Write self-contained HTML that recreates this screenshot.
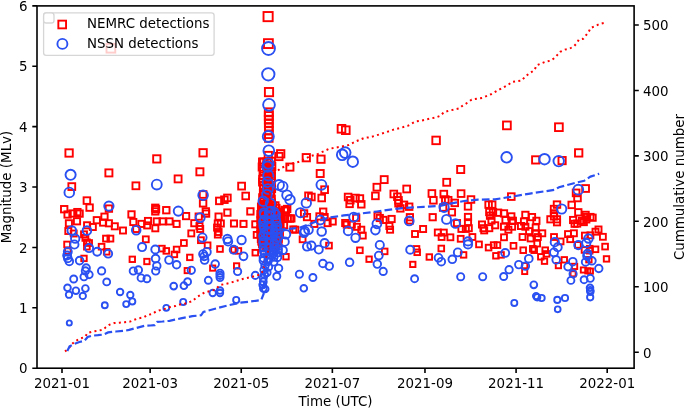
<!DOCTYPE html>
<html><head><meta charset="utf-8"><title>plot</title>
<style>html,body{margin:0;padding:0;background:#fff;overflow:hidden}svg{display:block}</style>
</head><body>
<svg width="685" height="409" viewBox="0 0 685 409" font-family="'DejaVu Sans', 'Liberation Sans', sans-serif" font-size="13.4">
<rect width="685" height="409" fill="#fff"/>
<defs><clipPath id="c"><rect x="37.0" y="5.9" width="597.1" height="362.3"/></clipPath></defs>
<g clip-path="url(#c)" fill="none" stroke-width="1.9">
<g stroke="#ff0000">
<rect x="106.51" y="43.81" width="8.78" height="8.78"/>
<rect x="65.42" y="149.32" width="7.35" height="7.35"/>
<rect x="105.38" y="169.38" width="7.04" height="7.04"/>
<rect x="68.39" y="183.19" width="6.81" height="6.81"/>
<rect x="83.61" y="197.31" width="6.57" height="6.57"/>
<rect x="86.38" y="204.38" width="6.45" height="6.45"/>
<rect x="105.69" y="205.39" width="6.43" height="6.43"/>
<rect x="60.99" y="205.99" width="6.42" height="6.42"/>
<rect x="64.44" y="211.34" width="6.32" height="6.32"/>
<rect x="69.33" y="210.33" width="6.34" height="6.34"/>
<rect x="74.22" y="208.92" width="6.37" height="6.37"/>
<rect x="76.43" y="210.43" width="6.34" height="6.34"/>
<rect x="65.82" y="220.22" width="6.16" height="6.16"/>
<rect x="73.90" y="218.20" width="6.20" height="6.20"/>
<rect x="84.04" y="222.24" width="6.12" height="6.12"/>
<rect x="93.69" y="217.09" width="6.22" height="6.22"/>
<rect x="89.76" y="223.96" width="6.09" height="6.09"/>
<rect x="101.36" y="213.56" width="6.28" height="6.28"/>
<rect x="100.01" y="219.51" width="6.17" height="6.17"/>
<rect x="105.82" y="220.22" width="6.16" height="6.16"/>
<rect x="111.75" y="223.25" width="6.10" height="6.10"/>
<rect x="65.30" y="228.00" width="6.01" height="6.01"/>
<rect x="70.72" y="230.52" width="5.96" height="5.96"/>
<rect x="81.03" y="231.33" width="5.94" height="5.94"/>
<rect x="82.46" y="234.96" width="5.87" height="5.87"/>
<rect x="84.01" y="239.41" width="5.78" height="5.78"/>
<rect x="86.22" y="240.12" width="5.77" height="5.77"/>
<rect x="103.07" y="235.67" width="5.86" height="5.86"/>
<rect x="107.47" y="235.67" width="5.86" height="5.86"/>
<rect x="64.23" y="241.63" width="5.74" height="5.74"/>
<rect x="98.75" y="243.85" width="5.69" height="5.69"/>
<rect x="103.91" y="249.01" width="5.58" height="5.58"/>
<rect x="81.28" y="255.68" width="5.44" height="5.44"/>
<rect x="84.05" y="243.85" width="5.69" height="5.69"/>
<rect x="65.00" y="248.30" width="5.60" height="5.60"/>
<rect x="153.17" y="155.27" width="7.26" height="7.26"/>
<rect x="174.63" y="175.43" width="6.94" height="6.94"/>
<rect x="132.49" y="182.39" width="6.83" height="6.83"/>
<rect x="152.08" y="204.58" width="6.44" height="6.44"/>
<rect x="152.11" y="208.21" width="6.38" height="6.38"/>
<rect x="152.79" y="205.99" width="6.42" height="6.42"/>
<rect x="163.10" y="207.00" width="6.40" height="6.40"/>
<rect x="182.95" y="212.95" width="6.29" height="6.29"/>
<rect x="128.34" y="211.24" width="6.32" height="6.32"/>
<rect x="130.21" y="218.91" width="6.18" height="6.18"/>
<rect x="119.99" y="227.49" width="6.02" height="6.02"/>
<rect x="138.33" y="220.83" width="6.15" height="6.15"/>
<rect x="144.90" y="217.90" width="6.20" height="6.20"/>
<rect x="144.14" y="222.34" width="6.12" height="6.12"/>
<rect x="153.70" y="218.30" width="6.19" height="6.19"/>
<rect x="159.50" y="218.30" width="6.19" height="6.19"/>
<rect x="166.40" y="218.30" width="6.19" height="6.19"/>
<rect x="173.53" y="220.83" width="6.15" height="6.15"/>
<rect x="152.27" y="225.27" width="6.06" height="6.06"/>
<rect x="133.18" y="225.98" width="6.05" height="6.05"/>
<rect x="142.88" y="236.38" width="5.84" height="5.84"/>
<rect x="188.32" y="230.42" width="5.96" height="5.96"/>
<rect x="181.02" y="240.12" width="5.77" height="5.77"/>
<rect x="159.07" y="245.77" width="5.65" height="5.65"/>
<rect x="163.50" y="248.10" width="5.60" height="5.60"/>
<rect x="173.78" y="246.68" width="5.63" height="5.63"/>
<rect x="171.64" y="251.64" width="5.53" height="5.53"/>
<rect x="129.59" y="256.59" width="5.42" height="5.42"/>
<rect x="144.22" y="258.82" width="5.37" height="5.37"/>
<rect x="187.07" y="254.67" width="5.46" height="5.46"/>
<rect x="184.62" y="268.02" width="5.16" height="5.16"/>
<rect x="199.42" y="149.12" width="7.35" height="7.35"/>
<rect x="196.37" y="168.27" width="7.06" height="7.06"/>
<rect x="238.19" y="182.69" width="6.82" height="6.82"/>
<rect x="199.76" y="191.16" width="6.68" height="6.68"/>
<rect x="199.84" y="200.04" width="6.52" height="6.52"/>
<rect x="202.61" y="208.21" width="6.38" height="6.38"/>
<rect x="202.93" y="210.43" width="6.34" height="6.34"/>
<rect x="216.02" y="197.62" width="6.57" height="6.57"/>
<rect x="221.11" y="196.41" width="6.59" height="6.59"/>
<rect x="224.09" y="194.59" width="6.62" height="6.62"/>
<rect x="242.37" y="192.67" width="6.65" height="6.65"/>
<rect x="224.22" y="209.42" width="6.36" height="6.36"/>
<rect x="247.21" y="208.21" width="6.38" height="6.38"/>
<rect x="195.56" y="213.46" width="6.28" height="6.28"/>
<rect x="191.22" y="220.12" width="6.16" height="6.16"/>
<rect x="196.45" y="223.05" width="6.10" height="6.10"/>
<rect x="197.18" y="225.98" width="6.05" height="6.05"/>
<rect x="215.46" y="213.46" width="6.28" height="6.28"/>
<rect x="214.72" y="220.42" width="6.15" height="6.15"/>
<rect x="217.72" y="220.42" width="6.15" height="6.15"/>
<rect x="214.06" y="224.56" width="6.07" height="6.07"/>
<rect x="215.61" y="229.01" width="5.99" height="5.99"/>
<rect x="214.83" y="231.63" width="5.94" height="5.94"/>
<rect x="230.92" y="220.42" width="6.15" height="6.15"/>
<rect x="240.43" y="220.83" width="6.15" height="6.15"/>
<rect x="252.23" y="221.23" width="6.14" height="6.14"/>
<rect x="253.73" y="231.93" width="5.93" height="5.93"/>
<rect x="197.99" y="237.29" width="5.82" height="5.82"/>
<rect x="204.74" y="242.44" width="5.72" height="5.72"/>
<rect x="217.18" y="246.18" width="5.64" height="5.64"/>
<rect x="231.19" y="246.89" width="5.63" height="5.63"/>
<rect x="235.60" y="248.10" width="5.60" height="5.60"/>
<rect x="252.52" y="249.92" width="5.56" height="5.56"/>
<rect x="210.09" y="265.49" width="5.22" height="5.22"/>
<rect x="233.97" y="263.27" width="5.27" height="5.27"/>
<rect x="263.52" y="12.02" width="9.16" height="9.16"/>
<rect x="263.98" y="39.18" width="8.84" height="8.84"/>
<rect x="264.89" y="87.99" width="8.22" height="8.22"/>
<rect x="264.83" y="108.33" width="7.94" height="7.94"/>
<rect x="264.85" y="112.05" width="7.89" height="7.89"/>
<rect x="264.88" y="115.78" width="7.84" height="7.84"/>
<rect x="264.91" y="119.41" width="7.79" height="7.79"/>
<rect x="264.93" y="123.13" width="7.74" height="7.74"/>
<rect x="264.96" y="126.76" width="7.68" height="7.68"/>
<rect x="264.98" y="130.48" width="7.63" height="7.63"/>
<rect x="265.01" y="134.21" width="7.58" height="7.58"/>
<rect x="264.64" y="151.84" width="7.31" height="7.31"/>
<rect x="260.29" y="158.49" width="7.21" height="7.21"/>
<rect x="264.02" y="161.72" width="7.16" height="7.16"/>
<rect x="264.81" y="172.71" width="6.98" height="6.98"/>
<rect x="259.06" y="178.66" width="6.89" height="6.89"/>
<rect x="264.19" y="183.09" width="6.81" height="6.81"/>
<rect x="264.22" y="186.82" width="6.75" height="6.75"/>
<rect x="267.15" y="189.75" width="6.70" height="6.70"/>
<rect x="260.55" y="189.75" width="6.70" height="6.70"/>
<rect x="259.19" y="194.19" width="6.63" height="6.63"/>
<rect x="260.00" y="207.50" width="6.39" height="6.39"/>
<rect x="277.03" y="150.13" width="7.34" height="7.34"/>
<rect x="275.25" y="152.85" width="7.30" height="7.30"/>
<rect x="286.33" y="163.53" width="7.13" height="7.13"/>
<rect x="282.70" y="207.50" width="6.39" height="6.39"/>
<rect x="274.22" y="209.72" width="6.35" height="6.35"/>
<rect x="281.50" y="206.70" width="6.41" height="6.41"/>
<rect x="284.68" y="215.28" width="6.25" height="6.25"/>
<rect x="278.58" y="215.28" width="6.25" height="6.25"/>
<rect x="288.28" y="215.28" width="6.25" height="6.25"/>
<rect x="281.04" y="222.14" width="6.12" height="6.12"/>
<rect x="274.88" y="215.28" width="6.25" height="6.25"/>
<rect x="277.45" y="222.75" width="6.11" height="6.11"/>
<rect x="290.28" y="226.38" width="6.04" height="6.04"/>
<rect x="283.26" y="253.96" width="5.48" height="5.48"/>
<rect x="337.64" y="124.94" width="7.71" height="7.71"/>
<rect x="341.95" y="126.35" width="7.69" height="7.69"/>
<rect x="302.66" y="154.06" width="7.28" height="7.28"/>
<rect x="317.37" y="155.57" width="7.26" height="7.26"/>
<rect x="316.69" y="169.99" width="7.03" height="7.03"/>
<rect x="321.22" y="186.32" width="6.76" height="6.76"/>
<rect x="318.39" y="194.69" width="6.62" height="6.62"/>
<rect x="305.17" y="192.47" width="6.66" height="6.66"/>
<rect x="308.08" y="193.68" width="6.64" height="6.64"/>
<rect x="300.93" y="210.23" width="6.34" height="6.34"/>
<rect x="303.86" y="213.96" width="6.27" height="6.27"/>
<rect x="283.99" y="205.79" width="6.42" height="6.42"/>
<rect x="286.98" y="215.48" width="6.25" height="6.25"/>
<rect x="320.01" y="208.51" width="6.37" height="6.37"/>
<rect x="316.36" y="213.26" width="6.29" height="6.29"/>
<rect x="321.46" y="213.96" width="6.27" height="6.27"/>
<rect x="329.60" y="218.40" width="6.19" height="6.19"/>
<rect x="344.78" y="193.68" width="6.64" height="6.64"/>
<rect x="347.01" y="196.91" width="6.58" height="6.58"/>
<rect x="352.19" y="194.69" width="6.62" height="6.62"/>
<rect x="356.60" y="195.20" width="6.61" height="6.61"/>
<rect x="358.05" y="201.05" width="6.51" height="6.51"/>
<rect x="346.34" y="200.64" width="6.51" height="6.51"/>
<rect x="353.07" y="214.67" width="6.26" height="6.26"/>
<rect x="342.12" y="219.92" width="6.16" height="6.16"/>
<rect x="292.28" y="226.68" width="6.03" height="6.03"/>
<rect x="299.68" y="236.38" width="5.84" height="5.84"/>
<rect x="311.33" y="220.83" width="6.15" height="6.15"/>
<rect x="324.52" y="220.02" width="6.16" height="6.16"/>
<rect x="326.14" y="242.74" width="5.71" height="5.71"/>
<rect x="357.09" y="247.49" width="5.61" height="5.61"/>
<rect x="343.63" y="221.53" width="6.13" height="6.13"/>
<rect x="348.73" y="221.53" width="6.13" height="6.13"/>
<rect x="353.85" y="223.75" width="6.09" height="6.09"/>
<rect x="358.28" y="226.68" width="6.03" height="6.03"/>
<rect x="359.84" y="232.64" width="5.92" height="5.92"/>
<rect x="432.33" y="136.63" width="7.54" height="7.54"/>
<rect x="380.74" y="176.14" width="6.93" height="6.93"/>
<rect x="373.50" y="183.80" width="6.80" height="6.80"/>
<rect x="403.31" y="185.61" width="6.77" height="6.77"/>
<rect x="372.07" y="192.57" width="6.65" height="6.65"/>
<rect x="390.46" y="190.66" width="6.69" height="6.69"/>
<rect x="394.08" y="193.38" width="6.64" height="6.64"/>
<rect x="395.21" y="197.01" width="6.58" height="6.58"/>
<rect x="395.24" y="200.04" width="6.52" height="6.52"/>
<rect x="400.75" y="201.55" width="6.50" height="6.50"/>
<rect x="397.18" y="205.18" width="6.43" height="6.43"/>
<rect x="405.97" y="203.47" width="6.46" height="6.46"/>
<rect x="428.55" y="190.15" width="6.70" height="6.70"/>
<rect x="430.11" y="197.01" width="6.58" height="6.58"/>
<rect x="374.45" y="212.65" width="6.30" height="6.30"/>
<rect x="376.67" y="214.87" width="6.26" height="6.26"/>
<rect x="380.39" y="216.79" width="6.22" height="6.22"/>
<rect x="388.48" y="215.88" width="6.24" height="6.24"/>
<rect x="386.35" y="222.95" width="6.11" height="6.11"/>
<rect x="387.08" y="226.68" width="6.03" height="6.03"/>
<rect x="406.76" y="214.06" width="6.27" height="6.27"/>
<rect x="406.79" y="217.39" width="6.21" height="6.21"/>
<rect x="429.56" y="214.06" width="6.27" height="6.27"/>
<rect x="412.03" y="231.03" width="5.95" height="5.95"/>
<rect x="420.08" y="225.98" width="6.05" height="6.05"/>
<rect x="434.81" y="229.51" width="5.98" height="5.98"/>
<rect x="381.90" y="248.60" width="5.59" height="5.59"/>
<rect x="366.39" y="256.49" width="5.42" height="5.42"/>
<rect x="413.68" y="246.08" width="5.64" height="5.64"/>
<rect x="414.41" y="249.51" width="5.57" height="5.57"/>
<rect x="410.15" y="261.75" width="5.30" height="5.30"/>
<rect x="426.57" y="254.27" width="5.47" height="5.47"/>
<rect x="438.47" y="245.67" width="5.65" height="5.65"/>
<rect x="503.02" y="121.52" width="7.76" height="7.76"/>
<rect x="457.15" y="165.95" width="7.09" height="7.09"/>
<rect x="443.26" y="178.86" width="6.88" height="6.88"/>
<rect x="440.46" y="190.76" width="6.69" height="6.69"/>
<rect x="457.75" y="190.25" width="6.69" height="6.69"/>
<rect x="442.00" y="196.20" width="6.59" height="6.59"/>
<rect x="444.91" y="196.91" width="6.58" height="6.58"/>
<rect x="451.53" y="199.63" width="6.53" height="6.53"/>
<rect x="467.70" y="196.20" width="6.59" height="6.59"/>
<rect x="464.77" y="203.17" width="6.47" height="6.47"/>
<rect x="439.88" y="204.38" width="6.45" height="6.45"/>
<rect x="448.72" y="209.12" width="6.36" height="6.36"/>
<rect x="464.86" y="213.86" width="6.28" height="6.28"/>
<rect x="453.92" y="220.02" width="6.16" height="6.16"/>
<rect x="485.35" y="201.35" width="6.50" height="6.50"/>
<rect x="488.95" y="201.35" width="6.50" height="6.50"/>
<rect x="486.12" y="208.82" width="6.37" height="6.37"/>
<rect x="489.82" y="208.82" width="6.37" height="6.37"/>
<rect x="494.92" y="209.52" width="6.36" height="6.36"/>
<rect x="500.83" y="210.23" width="6.34" height="6.34"/>
<rect x="508.16" y="213.26" width="6.29" height="6.29"/>
<rect x="502.39" y="216.99" width="6.22" height="6.22"/>
<rect x="507.98" y="193.28" width="6.64" height="6.64"/>
<rect x="488.39" y="217.39" width="6.21" height="6.21"/>
<rect x="478.93" y="221.43" width="6.13" height="6.13"/>
<rect x="464.91" y="219.21" width="6.18" height="6.18"/>
<rect x="458.38" y="225.88" width="6.05" height="6.05"/>
<rect x="462.78" y="225.88" width="6.05" height="6.05"/>
<rect x="465.77" y="225.17" width="6.06" height="6.06"/>
<rect x="440.81" y="229.61" width="5.98" height="5.98"/>
<rect x="438.66" y="234.06" width="5.89" height="5.89"/>
<rect x="447.46" y="234.36" width="5.88" height="5.88"/>
<rect x="457.77" y="235.87" width="5.85" height="5.85"/>
<rect x="469.46" y="234.06" width="5.89" height="5.89"/>
<rect x="476.13" y="241.53" width="5.74" height="5.74"/>
<rect x="460.84" y="252.14" width="5.51" height="5.51"/>
<rect x="480.37" y="225.17" width="6.06" height="6.06"/>
<rect x="481.19" y="227.39" width="6.02" height="6.02"/>
<rect x="486.27" y="225.17" width="6.06" height="6.06"/>
<rect x="492.14" y="222.24" width="6.12" height="6.12"/>
<rect x="486.85" y="212.55" width="6.30" height="6.30"/>
<rect x="500.95" y="223.65" width="6.09" height="6.09"/>
<rect x="505.38" y="226.68" width="6.03" height="6.03"/>
<rect x="509.00" y="217.80" width="6.20" height="6.20"/>
<rect x="509.05" y="223.65" width="6.09" height="6.09"/>
<rect x="501.06" y="234.36" width="5.88" height="5.88"/>
<rect x="485.76" y="244.76" width="5.67" height="5.67"/>
<rect x="490.84" y="242.24" width="5.72" height="5.72"/>
<rect x="494.54" y="242.24" width="5.72" height="5.72"/>
<rect x="493.15" y="253.05" width="5.50" height="5.50"/>
<rect x="498.34" y="252.14" width="5.51" height="5.51"/>
<rect x="510.65" y="242.95" width="5.71" height="5.71"/>
<rect x="555.03" y="123.33" width="7.73" height="7.73"/>
<rect x="575.02" y="149.22" width="7.35" height="7.35"/>
<rect x="532.08" y="156.28" width="7.24" height="7.24"/>
<rect x="558.48" y="156.98" width="7.23" height="7.23"/>
<rect x="582.21" y="185.11" width="6.78" height="6.78"/>
<rect x="572.75" y="189.55" width="6.71" height="6.71"/>
<rect x="574.19" y="194.69" width="6.62" height="6.62"/>
<rect x="568.45" y="201.65" width="6.50" height="6.50"/>
<rect x="575.12" y="209.12" width="6.36" height="6.36"/>
<rect x="569.99" y="216.89" width="6.22" height="6.22"/>
<rect x="582.44" y="211.74" width="6.31" height="6.31"/>
<rect x="583.96" y="213.96" width="6.27" height="6.27"/>
<rect x="578.80" y="217.70" width="6.20" height="6.20"/>
<rect x="553.75" y="201.35" width="6.50" height="6.50"/>
<rect x="550.79" y="205.79" width="6.42" height="6.42"/>
<rect x="550.83" y="210.23" width="6.34" height="6.34"/>
<rect x="550.86" y="213.26" width="6.29" height="6.29"/>
<rect x="547.28" y="216.18" width="6.23" height="6.23"/>
<rect x="553.88" y="216.18" width="6.23" height="6.23"/>
<rect x="522.24" y="211.74" width="6.31" height="6.31"/>
<rect x="528.86" y="213.96" width="6.27" height="6.27"/>
<rect x="533.30" y="217.70" width="6.20" height="6.20"/>
<rect x="520.90" y="218.40" width="6.19" height="6.19"/>
<rect x="509.80" y="217.70" width="6.20" height="6.20"/>
<rect x="517.95" y="222.95" width="6.11" height="6.11"/>
<rect x="522.35" y="223.65" width="6.09" height="6.09"/>
<rect x="526.10" y="228.10" width="6.01" height="6.01"/>
<rect x="532.66" y="224.46" width="6.08" height="6.08"/>
<rect x="532.72" y="230.32" width="5.96" height="5.96"/>
<rect x="539.32" y="230.32" width="5.96" height="5.96"/>
<rect x="519.56" y="234.06" width="5.89" height="5.89"/>
<rect x="527.67" y="235.57" width="5.86" height="5.86"/>
<rect x="534.96" y="234.06" width="5.89" height="5.89"/>
<rect x="534.32" y="240.72" width="5.75" height="5.75"/>
<rect x="529.98" y="245.98" width="5.65" height="5.65"/>
<rect x="531.39" y="247.39" width="5.62" height="5.62"/>
<rect x="520.39" y="247.39" width="5.62" height="5.62"/>
<rect x="542.39" y="247.39" width="5.62" height="5.62"/>
<rect x="543.93" y="251.13" width="5.54" height="5.54"/>
<rect x="538.06" y="254.06" width="5.47" height="5.47"/>
<rect x="541.81" y="258.51" width="5.38" height="5.38"/>
<rect x="553.91" y="219.21" width="6.18" height="6.18"/>
<rect x="551.06" y="234.06" width="5.89" height="5.89"/>
<rect x="557.70" y="238.50" width="5.80" height="5.80"/>
<rect x="565.03" y="231.13" width="5.95" height="5.95"/>
<rect x="567.28" y="236.28" width="5.85" height="5.85"/>
<rect x="570.92" y="230.32" width="5.96" height="5.96"/>
<rect x="571.53" y="220.73" width="6.15" height="6.15"/>
<rect x="583.18" y="216.28" width="6.23" height="6.23"/>
<rect x="581.94" y="232.64" width="5.92" height="5.92"/>
<rect x="561.60" y="257.10" width="5.41" height="5.41"/>
<rect x="555.76" y="262.96" width="5.28" height="5.28"/>
<rect x="571.97" y="263.77" width="5.26" height="5.26"/>
<rect x="580.81" y="267.41" width="5.17" height="5.17"/>
<rect x="522.06" y="262.96" width="5.28" height="5.28"/>
<rect x="522.13" y="268.93" width="5.14" height="5.14"/>
<rect x="585.22" y="268.32" width="5.15" height="5.15"/>
<rect x="570.56" y="271.26" width="5.08" height="5.08"/>
<rect x="587.26" y="213.86" width="6.28" height="6.28"/>
<rect x="589.47" y="214.57" width="6.26" height="6.26"/>
<rect x="580.71" y="219.01" width="6.18" height="6.18"/>
<rect x="574.12" y="220.52" width="6.15" height="6.15"/>
<rect x="595.48" y="226.48" width="6.04" height="6.04"/>
<rect x="592.50" y="228.70" width="5.99" height="5.99"/>
<rect x="587.44" y="232.34" width="5.92" height="5.92"/>
<rect x="599.95" y="233.85" width="5.89" height="5.89"/>
<rect x="575.04" y="242.04" width="5.73" height="5.73"/>
<rect x="602.25" y="243.75" width="5.69" height="5.69"/>
<rect x="592.68" y="246.48" width="5.64" height="5.64"/>
<rect x="581.69" y="247.19" width="5.62" height="5.62"/>
<rect x="586.90" y="247.90" width="5.61" height="5.61"/>
<rect x="586.88" y="245.88" width="5.65" height="5.65"/>
<rect x="603.79" y="256.19" width="5.43" height="5.43"/>
<rect x="586.20" y="257.00" width="5.41" height="5.41"/>
<rect x="587.83" y="268.53" width="5.15" height="5.15"/>
<rect x="258.98" y="158.47" width="7.21" height="7.21"/>
<rect x="263.19" y="158.56" width="7.21" height="7.21"/>
<rect x="267.59" y="157.69" width="7.22" height="7.22"/>
<rect x="258.65" y="163.47" width="7.13" height="7.13"/>
<rect x="263.04" y="162.50" width="7.15" height="7.15"/>
<rect x="268.22" y="162.88" width="7.14" height="7.14"/>
<rect x="260.00" y="167.43" width="7.07" height="7.07"/>
<rect x="263.68" y="166.90" width="7.08" height="7.08"/>
<rect x="267.69" y="168.06" width="7.06" height="7.06"/>
<rect x="259.54" y="172.39" width="6.99" height="6.99"/>
<rect x="263.77" y="171.30" width="7.01" height="7.01"/>
<rect x="267.92" y="172.15" width="6.99" height="6.99"/>
<rect x="259.21" y="175.78" width="6.93" height="6.93"/>
<rect x="264.12" y="176.49" width="6.92" height="6.92"/>
<rect x="267.89" y="177.15" width="6.91" height="6.91"/>
<rect x="259.92" y="181.76" width="6.84" height="6.84"/>
<rect x="263.41" y="181.56" width="6.84" height="6.84"/>
<rect x="267.49" y="181.78" width="6.84" height="6.84"/>
<rect x="260.21" y="184.96" width="6.78" height="6.78"/>
<rect x="263.03" y="185.16" width="6.78" height="6.78"/>
<rect x="268.36" y="185.51" width="6.77" height="6.77"/>
<rect x="259.85" y="189.83" width="6.70" height="6.70"/>
<rect x="263.66" y="189.97" width="6.70" height="6.70"/>
<rect x="267.41" y="190.29" width="6.69" height="6.69"/>
<rect x="259.83" y="195.34" width="6.61" height="6.61"/>
<rect x="263.99" y="195.38" width="6.61" height="6.61"/>
<rect x="268.27" y="195.48" width="6.60" height="6.60"/>
<rect x="260.00" y="198.69" width="6.55" height="6.55"/>
<rect x="264.31" y="199.98" width="6.53" height="6.53"/>
<rect x="268.38" y="199.34" width="6.54" height="6.54"/>
<rect x="259.09" y="201.29" width="6.50" height="6.50"/>
<rect x="262.78" y="201.87" width="6.49" height="6.49"/>
<rect x="265.40" y="201.05" width="6.51" height="6.51"/>
<rect x="269.83" y="202.54" width="6.48" height="6.48"/>
<rect x="272.10" y="202.24" width="6.49" height="6.49"/>
<rect x="258.63" y="204.52" width="6.45" height="6.45"/>
<rect x="261.96" y="205.52" width="6.43" height="6.43"/>
<rect x="266.37" y="204.35" width="6.45" height="6.45"/>
<rect x="269.46" y="204.35" width="6.45" height="6.45"/>
<rect x="273.13" y="204.81" width="6.44" height="6.44"/>
<rect x="259.43" y="209.19" width="6.36" height="6.36"/>
<rect x="262.33" y="209.22" width="6.36" height="6.36"/>
<rect x="265.50" y="207.73" width="6.39" height="6.39"/>
<rect x="269.47" y="207.66" width="6.39" height="6.39"/>
<rect x="272.33" y="208.26" width="6.38" height="6.38"/>
<rect x="259.01" y="211.19" width="6.33" height="6.33"/>
<rect x="261.62" y="212.34" width="6.30" height="6.30"/>
<rect x="265.55" y="212.48" width="6.30" height="6.30"/>
<rect x="269.98" y="211.55" width="6.32" height="6.32"/>
<rect x="272.78" y="211.77" width="6.31" height="6.31"/>
<rect x="259.10" y="215.23" width="6.25" height="6.25"/>
<rect x="262.47" y="215.27" width="6.25" height="6.25"/>
<rect x="266.58" y="215.08" width="6.25" height="6.25"/>
<rect x="269.27" y="215.43" width="6.25" height="6.25"/>
<rect x="272.45" y="214.75" width="6.26" height="6.26"/>
<rect x="259.67" y="218.44" width="6.19" height="6.19"/>
<rect x="262.47" y="217.62" width="6.21" height="6.21"/>
<rect x="265.77" y="218.53" width="6.19" height="6.19"/>
<rect x="268.64" y="218.59" width="6.19" height="6.19"/>
<rect x="273.11" y="217.69" width="6.20" height="6.20"/>
<rect x="259.14" y="221.68" width="6.13" height="6.13"/>
<rect x="262.72" y="221.50" width="6.13" height="6.13"/>
<rect x="266.27" y="222.12" width="6.12" height="6.12"/>
<rect x="268.66" y="221.03" width="6.14" height="6.14"/>
<rect x="273.22" y="222.48" width="6.11" height="6.11"/>
<rect x="258.57" y="225.00" width="6.07" height="6.07"/>
<rect x="262.61" y="224.78" width="6.07" height="6.07"/>
<rect x="265.75" y="224.76" width="6.07" height="6.07"/>
<rect x="269.26" y="225.22" width="6.06" height="6.06"/>
<rect x="272.65" y="224.87" width="6.07" height="6.07"/>
<rect x="259.43" y="227.64" width="6.02" height="6.02"/>
<rect x="262.61" y="228.78" width="5.99" height="5.99"/>
<rect x="265.69" y="227.95" width="6.01" height="6.01"/>
<rect x="269.98" y="227.98" width="6.01" height="6.01"/>
<rect x="272.50" y="228.29" width="6.00" height="6.00"/>
<rect x="259.34" y="231.09" width="5.95" height="5.95"/>
<rect x="262.24" y="231.46" width="5.94" height="5.94"/>
<rect x="266.56" y="231.63" width="5.94" height="5.94"/>
<rect x="270.10" y="231.20" width="5.95" height="5.95"/>
<rect x="272.77" y="231.98" width="5.93" height="5.93"/>
<rect x="259.68" y="234.99" width="5.87" height="5.87"/>
<rect x="262.12" y="234.45" width="5.88" height="5.88"/>
<rect x="266.11" y="234.57" width="5.88" height="5.88"/>
<rect x="270.06" y="235.61" width="5.86" height="5.86"/>
<rect x="272.56" y="234.71" width="5.88" height="5.88"/>
<rect x="259.59" y="238.63" width="5.80" height="5.80"/>
<rect x="263.09" y="238.15" width="5.81" height="5.81"/>
<rect x="265.50" y="238.06" width="5.81" height="5.81"/>
<rect x="270.07" y="238.03" width="5.81" height="5.81"/>
<rect x="272.85" y="238.26" width="5.80" height="5.80"/>
<rect x="259.00" y="241.59" width="5.74" height="5.74"/>
<rect x="263.30" y="241.18" width="5.75" height="5.75"/>
<rect x="265.35" y="242.45" width="5.72" height="5.72"/>
<rect x="270.25" y="242.52" width="5.72" height="5.72"/>
<rect x="273.04" y="242.46" width="5.72" height="5.72"/>
<rect x="259.85" y="244.62" width="5.67" height="5.67"/>
<rect x="263.07" y="245.61" width="5.65" height="5.65"/>
<rect x="266.43" y="245.10" width="5.66" height="5.66"/>
<rect x="269.33" y="244.81" width="5.67" height="5.67"/>
<rect x="272.72" y="244.37" width="5.68" height="5.68"/>
<rect x="257.91" y="203.43" width="6.46" height="6.46"/>
<rect x="260.26" y="203.04" width="6.47" height="6.47"/>
<rect x="258.44" y="206.61" width="6.41" height="6.41"/>
<rect x="260.48" y="206.93" width="6.40" height="6.40"/>
<rect x="258.46" y="208.94" width="6.37" height="6.37"/>
<rect x="259.04" y="209.21" width="6.36" height="6.36"/>
<rect x="257.31" y="211.02" width="6.33" height="6.33"/>
<rect x="260.10" y="211.38" width="6.32" height="6.32"/>
<rect x="257.73" y="214.57" width="6.26" height="6.26"/>
<rect x="260.04" y="213.61" width="6.28" height="6.28"/>
<rect x="257.49" y="216.97" width="6.22" height="6.22"/>
<rect x="259.85" y="216.84" width="6.22" height="6.22"/>
<rect x="257.67" y="218.42" width="6.19" height="6.19"/>
<rect x="259.97" y="219.42" width="6.17" height="6.17"/>
<rect x="257.41" y="221.90" width="6.13" height="6.13"/>
<rect x="260.61" y="221.93" width="6.13" height="6.13"/>
<rect x="258.47" y="223.16" width="6.10" height="6.10"/>
<rect x="260.17" y="224.54" width="6.08" height="6.08"/>
<rect x="257.26" y="226.11" width="6.05" height="6.05"/>
<rect x="259.61" y="226.53" width="6.04" height="6.04"/>
<rect x="257.88" y="228.96" width="5.99" height="5.99"/>
<rect x="260.44" y="228.20" width="6.00" height="6.00"/>
<rect x="257.31" y="230.93" width="5.95" height="5.95"/>
<rect x="259.42" y="230.83" width="5.95" height="5.95"/>
<rect x="258.82" y="234.63" width="5.88" height="5.88"/>
<rect x="259.39" y="234.06" width="5.89" height="5.89"/>
<rect x="257.78" y="236.28" width="5.84" height="5.84"/>
<rect x="259.84" y="236.82" width="5.83" height="5.83"/>
<rect x="258.24" y="238.88" width="5.79" height="5.79"/>
<rect x="259.61" y="238.83" width="5.79" height="5.79"/>
<rect x="273.71" y="208.91" width="6.37" height="6.37"/>
<rect x="276.66" y="208.62" width="6.37" height="6.37"/>
<rect x="273.66" y="210.82" width="6.33" height="6.33"/>
<rect x="276.14" y="211.51" width="6.32" height="6.32"/>
<rect x="274.81" y="213.67" width="6.28" height="6.28"/>
<rect x="276.85" y="214.06" width="6.27" height="6.27"/>
<rect x="274.27" y="216.18" width="6.23" height="6.23"/>
<rect x="276.38" y="216.71" width="6.22" height="6.22"/>
<rect x="274.28" y="219.22" width="6.18" height="6.18"/>
<rect x="276.34" y="218.50" width="6.19" height="6.19"/>
<rect x="274.49" y="221.75" width="6.13" height="6.13"/>
<rect x="275.75" y="221.31" width="6.14" height="6.14"/>
<rect x="274.34" y="224.57" width="6.07" height="6.07"/>
<rect x="277.15" y="223.75" width="6.09" height="6.09"/>
<rect x="275.12" y="226.95" width="6.03" height="6.03"/>
<rect x="276.10" y="226.42" width="6.04" height="6.04"/>
<rect x="273.91" y="229.51" width="5.98" height="5.98"/>
<rect x="276.77" y="229.63" width="5.98" height="5.98"/>
<rect x="275.00" y="231.80" width="5.93" height="5.93"/>
<rect x="276.91" y="231.63" width="5.94" height="5.94"/>
<rect x="273.92" y="234.20" width="5.89" height="5.89"/>
<rect x="275.76" y="233.48" width="5.90" height="5.90"/>
<rect x="275.01" y="235.84" width="5.85" height="5.85"/>
<rect x="275.92" y="235.93" width="5.85" height="5.85"/>
<rect x="275.21" y="238.59" width="5.80" height="5.80"/>
<rect x="275.85" y="239.66" width="5.78" height="5.78"/>
</g>
<g stroke="#2a50f2">
<circle cx="70.60" cy="174.80" r="5.08"/>
<circle cx="69.30" cy="192.50" r="4.85"/>
<circle cx="108.90" cy="206.10" r="4.67"/>
<circle cx="71.80" cy="230.50" r="4.32"/>
<circle cx="86.90" cy="230.60" r="4.32"/>
<circle cx="75.20" cy="238.70" r="4.20"/>
<circle cx="74.40" cy="244.50" r="4.11"/>
<circle cx="89.10" cy="248.10" r="4.05"/>
<circle cx="97.20" cy="251.80" r="3.99"/>
<circle cx="108.20" cy="253.70" r="3.96"/>
<circle cx="67.80" cy="251.80" r="3.99"/>
<circle cx="67.10" cy="255.50" r="3.93"/>
<circle cx="67.80" cy="258.40" r="3.88"/>
<circle cx="69.30" cy="261.40" r="3.83"/>
<circle cx="79.60" cy="260.60" r="3.84"/>
<circle cx="86.20" cy="268.00" r="3.71"/>
<circle cx="85.40" cy="270.90" r="3.66"/>
<circle cx="89.10" cy="274.60" r="3.60"/>
<circle cx="84.00" cy="276.80" r="3.56"/>
<circle cx="101.60" cy="270.90" r="3.66"/>
<circle cx="73.70" cy="279.00" r="3.51"/>
<circle cx="106.70" cy="281.90" r="3.46"/>
<circle cx="67.50" cy="287.80" r="3.35"/>
<circle cx="75.90" cy="290.70" r="3.29"/>
<circle cx="85.40" cy="288.50" r="3.33"/>
<circle cx="69.00" cy="294.70" r="3.21"/>
<circle cx="82.80" cy="295.90" r="3.18"/>
<circle cx="104.80" cy="305.20" r="2.98"/>
<circle cx="69.30" cy="322.90" r="2.55"/>
<circle cx="156.80" cy="184.60" r="4.95"/>
<circle cx="178.30" cy="211.10" r="4.60"/>
<circle cx="136.20" cy="230.20" r="4.32"/>
<circle cx="142.10" cy="247.10" r="4.06"/>
<circle cx="155.30" cy="249.50" r="4.03"/>
<circle cx="155.60" cy="258.60" r="3.88"/>
<circle cx="169.00" cy="260.00" r="3.85"/>
<circle cx="176.60" cy="264.70" r="3.77"/>
<circle cx="156.80" cy="265.90" r="3.75"/>
<circle cx="155.70" cy="271.00" r="3.66"/>
<circle cx="191.30" cy="270.30" r="3.67"/>
<circle cx="133.30" cy="271.00" r="3.66"/>
<circle cx="138.40" cy="270.00" r="3.68"/>
<circle cx="141.10" cy="277.90" r="3.54"/>
<circle cx="146.90" cy="278.80" r="3.52"/>
<circle cx="173.70" cy="286.10" r="3.38"/>
<circle cx="183.90" cy="285.70" r="3.39"/>
<circle cx="187.60" cy="281.70" r="3.46"/>
<circle cx="120.10" cy="292.00" r="3.26"/>
<circle cx="130.30" cy="295.00" r="3.20"/>
<circle cx="132.30" cy="301.40" r="3.06"/>
<circle cx="126.20" cy="304.10" r="3.00"/>
<circle cx="166.30" cy="307.80" r="2.92"/>
<circle cx="183.20" cy="301.90" r="3.05"/>
<circle cx="203.10" cy="195.30" r="4.81"/>
<circle cx="200.20" cy="217.60" r="4.51"/>
<circle cx="202.40" cy="237.60" r="4.21"/>
<circle cx="227.40" cy="239.00" r="4.19"/>
<circle cx="228.10" cy="241.50" r="4.15"/>
<circle cx="241.60" cy="240.00" r="4.18"/>
<circle cx="233.70" cy="249.70" r="4.02"/>
<circle cx="243.50" cy="256.30" r="3.91"/>
<circle cx="203.10" cy="254.10" r="3.95"/>
<circle cx="206.80" cy="251.90" r="3.99"/>
<circle cx="204.60" cy="260.00" r="3.85"/>
<circle cx="204.30" cy="256.30" r="3.91"/>
<circle cx="215.20" cy="264.10" r="3.78"/>
<circle cx="237.60" cy="271.50" r="3.65"/>
<circle cx="220.00" cy="273.20" r="3.62"/>
<circle cx="220.00" cy="275.40" r="3.58"/>
<circle cx="220.00" cy="277.60" r="3.54"/>
<circle cx="208.30" cy="280.30" r="3.49"/>
<circle cx="255.30" cy="275.40" r="3.58"/>
<circle cx="212.70" cy="293.00" r="3.24"/>
<circle cx="220.00" cy="290.60" r="3.29"/>
<circle cx="220.00" cy="293.00" r="3.24"/>
<circle cx="236.20" cy="300.00" r="3.09"/>
<circle cx="268.50" cy="48.50" r="6.44"/>
<circle cx="268.30" cy="74.30" r="6.19"/>
<circle cx="269.00" cy="104.80" r="5.88"/>
<circle cx="268.30" cy="136.50" r="5.53"/>
<circle cx="268.80" cy="150.70" r="5.37"/>
<circle cx="268.30" cy="163.60" r="5.21"/>
<circle cx="267.60" cy="166.70" r="5.18"/>
<circle cx="268.30" cy="175.50" r="5.07"/>
<circle cx="267.60" cy="182.10" r="4.98"/>
<circle cx="279.00" cy="185.00" r="4.95"/>
<circle cx="282.60" cy="186.60" r="4.93"/>
<circle cx="287.00" cy="195.20" r="4.81"/>
<circle cx="290.00" cy="199.80" r="4.75"/>
<circle cx="263.20" cy="201.20" r="4.73"/>
<circle cx="270.50" cy="203.40" r="4.70"/>
<circle cx="270.50" cy="211.40" r="4.59"/>
<circle cx="286.00" cy="234.30" r="4.26"/>
<circle cx="284.70" cy="241.70" r="4.15"/>
<circle cx="282.90" cy="250.20" r="4.01"/>
<circle cx="278.00" cy="249.00" r="4.03"/>
<circle cx="278.00" cy="252.40" r="3.98"/>
<circle cx="277.40" cy="257.30" r="3.90"/>
<circle cx="278.60" cy="268.30" r="3.71"/>
<circle cx="276.80" cy="276.30" r="3.56"/>
<circle cx="263.30" cy="278.10" r="3.53"/>
<circle cx="263.30" cy="281.80" r="3.46"/>
<circle cx="262.70" cy="284.80" r="3.40"/>
<circle cx="263.30" cy="288.50" r="3.33"/>
<circle cx="265.20" cy="289.10" r="3.32"/>
<circle cx="342.20" cy="154.80" r="5.32"/>
<circle cx="345.20" cy="152.60" r="5.34"/>
<circle cx="352.80" cy="161.70" r="5.24"/>
<circle cx="321.40" cy="184.80" r="4.95"/>
<circle cx="306.30" cy="202.90" r="4.71"/>
<circle cx="300.40" cy="212.70" r="4.58"/>
<circle cx="320.20" cy="220.00" r="4.47"/>
<circle cx="353.70" cy="217.10" r="4.51"/>
<circle cx="304.80" cy="231.20" r="4.31"/>
<circle cx="308.50" cy="229.70" r="4.33"/>
<circle cx="304.10" cy="232.70" r="4.29"/>
<circle cx="321.70" cy="231.50" r="4.30"/>
<circle cx="307.00" cy="246.60" r="4.07"/>
<circle cx="311.40" cy="245.60" r="4.09"/>
<circle cx="318.80" cy="249.60" r="4.02"/>
<circle cx="324.60" cy="243.20" r="4.13"/>
<circle cx="322.90" cy="263.50" r="3.79"/>
<circle cx="329.30" cy="266.10" r="3.75"/>
<circle cx="349.60" cy="262.30" r="3.81"/>
<circle cx="299.40" cy="274.20" r="3.60"/>
<circle cx="312.90" cy="277.50" r="3.54"/>
<circle cx="303.80" cy="288.30" r="3.34"/>
<circle cx="348.10" cy="230.90" r="4.31"/>
<circle cx="355.50" cy="237.80" r="4.21"/>
<circle cx="409.20" cy="220.90" r="4.46"/>
<circle cx="376.90" cy="223.80" r="4.42"/>
<circle cx="375.40" cy="230.10" r="4.33"/>
<circle cx="379.80" cy="245.00" r="4.10"/>
<circle cx="378.80" cy="255.60" r="3.93"/>
<circle cx="377.30" cy="264.10" r="3.78"/>
<circle cx="383.20" cy="271.40" r="3.65"/>
<circle cx="410.20" cy="249.70" r="4.02"/>
<circle cx="414.60" cy="278.70" r="3.52"/>
<circle cx="438.50" cy="257.80" r="3.89"/>
<circle cx="441.30" cy="261.70" r="3.82"/>
<circle cx="506.60" cy="157.30" r="5.29"/>
<circle cx="444.10" cy="207.30" r="4.65"/>
<circle cx="446.50" cy="219.40" r="4.48"/>
<circle cx="455.50" cy="223.50" r="4.42"/>
<circle cx="468.00" cy="241.40" r="4.15"/>
<circle cx="468.00" cy="244.40" r="4.11"/>
<circle cx="457.80" cy="252.40" r="3.98"/>
<circle cx="452.30" cy="259.30" r="3.86"/>
<circle cx="505.20" cy="252.90" r="3.97"/>
<circle cx="509.10" cy="269.70" r="3.68"/>
<circle cx="460.70" cy="276.70" r="3.56"/>
<circle cx="482.70" cy="276.70" r="3.56"/>
<circle cx="503.70" cy="276.50" r="3.56"/>
<circle cx="514.30" cy="302.90" r="3.03"/>
<circle cx="544.50" cy="159.20" r="5.27"/>
<circle cx="558.70" cy="161.10" r="5.24"/>
<circle cx="578.30" cy="189.70" r="4.89"/>
<circle cx="561.70" cy="209.00" r="4.63"/>
<circle cx="554.80" cy="242.20" r="4.14"/>
<circle cx="557.70" cy="247.30" r="4.06"/>
<circle cx="554.00" cy="252.40" r="3.98"/>
<circle cx="556.20" cy="259.80" r="3.86"/>
<circle cx="578.30" cy="245.10" r="4.10"/>
<circle cx="586.30" cy="242.90" r="4.13"/>
<circle cx="588.50" cy="238.50" r="4.20"/>
<circle cx="587.10" cy="256.10" r="3.92"/>
<circle cx="585.60" cy="262.00" r="3.82"/>
<circle cx="528.80" cy="258.70" r="3.87"/>
<circle cx="518.80" cy="264.60" r="3.77"/>
<circle cx="525.40" cy="266.10" r="3.75"/>
<circle cx="572.80" cy="261.70" r="3.82"/>
<circle cx="568.00" cy="266.70" r="3.74"/>
<circle cx="573.10" cy="273.90" r="3.61"/>
<circle cx="570.90" cy="280.40" r="3.49"/>
<circle cx="584.10" cy="279.70" r="3.50"/>
<circle cx="590.30" cy="278.30" r="3.53"/>
<circle cx="590.00" cy="287.80" r="3.35"/>
<circle cx="590.20" cy="290.20" r="3.30"/>
<circle cx="590.20" cy="297.30" r="3.15"/>
<circle cx="533.80" cy="284.80" r="3.40"/>
<circle cx="536.10" cy="296.10" r="3.18"/>
<circle cx="537.20" cy="297.30" r="3.15"/>
<circle cx="541.60" cy="298.00" r="3.14"/>
<circle cx="557.30" cy="299.90" r="3.10"/>
<circle cx="565.00" cy="298.00" r="3.14"/>
<circle cx="557.70" cy="309.30" r="2.89"/>
<circle cx="587.50" cy="253.70" r="3.96"/>
<circle cx="591.90" cy="260.80" r="3.84"/>
<circle cx="598.80" cy="268.50" r="3.71"/>
<circle cx="590.40" cy="291.70" r="3.27"/>
<circle cx="268.00" cy="189.00" r="4.90"/>
<circle cx="267.00" cy="194.50" r="4.82"/>
<circle cx="265.00" cy="265.50" r="3.76"/>
<circle cx="268.50" cy="267.00" r="3.73"/>
<circle cx="264.00" cy="270.00" r="3.68"/>
<circle cx="267.00" cy="272.50" r="3.63"/>
<circle cx="264.50" cy="274.50" r="3.60"/>
<circle cx="264.24" cy="212.69" r="4.58"/>
<circle cx="269.35" cy="212.67" r="4.58"/>
<circle cx="273.90" cy="212.16" r="4.58"/>
<circle cx="264.60" cy="214.57" r="4.55"/>
<circle cx="270.03" cy="215.52" r="4.54"/>
<circle cx="275.43" cy="214.71" r="4.55"/>
<circle cx="264.50" cy="219.87" r="4.47"/>
<circle cx="268.87" cy="218.65" r="4.49"/>
<circle cx="275.63" cy="219.66" r="4.48"/>
<circle cx="263.48" cy="221.86" r="4.45"/>
<circle cx="269.25" cy="222.73" r="4.43"/>
<circle cx="276.01" cy="222.29" r="4.44"/>
<circle cx="263.73" cy="225.79" r="4.39"/>
<circle cx="267.70" cy="225.84" r="4.39"/>
<circle cx="271.17" cy="226.00" r="4.39"/>
<circle cx="276.95" cy="225.83" r="4.39"/>
<circle cx="264.49" cy="228.82" r="4.34"/>
<circle cx="268.55" cy="230.01" r="4.33"/>
<circle cx="272.68" cy="229.53" r="4.33"/>
<circle cx="276.47" cy="229.79" r="4.33"/>
<circle cx="264.79" cy="232.30" r="4.29"/>
<circle cx="267.53" cy="233.50" r="4.27"/>
<circle cx="273.50" cy="233.03" r="4.28"/>
<circle cx="276.89" cy="233.44" r="4.28"/>
<circle cx="263.37" cy="236.03" r="4.24"/>
<circle cx="267.90" cy="236.67" r="4.23"/>
<circle cx="272.63" cy="235.96" r="4.24"/>
<circle cx="277.88" cy="237.41" r="4.22"/>
<circle cx="263.59" cy="240.41" r="4.17"/>
<circle cx="269.58" cy="240.71" r="4.16"/>
<circle cx="275.67" cy="239.53" r="4.18"/>
<circle cx="263.44" cy="242.55" r="4.14"/>
<circle cx="269.46" cy="243.27" r="4.12"/>
<circle cx="274.34" cy="243.22" r="4.13"/>
<circle cx="263.64" cy="247.55" r="4.06"/>
<circle cx="268.54" cy="247.98" r="4.05"/>
<circle cx="274.46" cy="247.20" r="4.06"/>
<circle cx="263.94" cy="251.17" r="4.00"/>
<circle cx="269.64" cy="250.61" r="4.01"/>
<circle cx="273.96" cy="250.94" r="4.00"/>
<circle cx="264.71" cy="253.80" r="3.96"/>
<circle cx="269.22" cy="254.92" r="3.94"/>
<circle cx="273.43" cy="253.46" r="3.96"/>
<circle cx="263.47" cy="257.94" r="3.89"/>
<circle cx="268.85" cy="258.42" r="3.88"/>
<circle cx="273.71" cy="256.98" r="3.90"/>
<circle cx="263.38" cy="260.52" r="3.84"/>
<circle cx="267.87" cy="261.41" r="3.83"/>
<circle cx="273.72" cy="261.80" r="3.82"/>
</g>
</g>
<g clip-path="url(#c)" fill="none" stroke-width="2.0">
<polyline points="65.00,351.40 68.70,348.60 71.50,344.50 75.50,341.00 79.80,338.60 84.90,337.00 87.70,332.90 92.80,331.50 97.90,330.80 103.00,329.60 105.80,327.30 109.50,324.70 114.20,323.10 119.40,322.70 124.90,322.20 130.00,321.60 133.50,320.10 138.40,318.30 143.70,317.40 147.40,315.00 152.50,313.90 156.00,311.40 160.30,310.10 165.60,308.60 170.40,307.00 175.20,306.10 180.00,304.40 185.30,303.50 192.30,301.10 196.90,297.10 205.00,292.30 214.60,289.90 220.20,285.10 230.70,282.70 243.50,278.70 253.10,276.60 259.60,274.60 262.80,271.40 263.80,267.40 264.60,262.00 266.20,257.00 268.00,251.00 268.80,240.00 269.20,225.00 269.50,205.00 270.00,190.00 271.00,180.00 274.60,173.20 281.10,168.00 292.30,163.50 299.50,161.60 310.00,156.30 318.00,153.90 329.20,148.80 340.50,146.70 348.50,145.10 356.50,141.10 364.60,137.80 370.00,137.30 380.50,134.10 392.80,129.90 407.70,125.90 415.50,121.50 420.80,120.70 436.60,117.20 441.00,115.40 443.60,112.40 448.80,110.70 459.30,108.40 462.00,106.10 468.10,102.30 471.60,99.60 482.10,97.90 490.90,94.30 499.60,89.40 508.40,84.70 511.90,82.00 521.50,80.60 525.90,75.90 534.70,69.80 536.40,65.40 545.20,61.90 550.40,60.70 554.80,57.90 560.10,51.90 564.90,49.60 569.80,48.60 574.20,46.00 577.10,42.70 578.80,39.80 583.20,38.80 586.10,35.20 588.80,31.70 590.50,28.10 595.00,26.10 599.60,24.00 606.30,22.40" stroke="#ff0000" stroke-dasharray="2.0 3.3"/>
<polyline points="67.30,351.00 69.60,346.30 74.20,344.00 79.40,342.00 84.50,340.70 87.70,337.00 92.40,335.60 97.90,335.20 103.50,334.50 108.10,332.40 112.80,331.70 115.90,331.50 125.60,330.60 129.10,329.90 136.20,328.00 145.00,325.70 150.30,325.50 154.70,325.10 157.30,321.80 162.50,321.50 169.50,320.80 174.80,319.70 180.90,318.40 186.20,317.30 192.30,316.20 201.10,315.30 203.40,311.90 217.80,308.00 229.10,305.10 240.30,302.70 249.90,301.60 261.20,300.00 263.60,293.90 265.00,260.00 268.00,235.00 275.00,230.00 289.50,228.80 297.40,228.00 300.20,227.50 309.40,224.20 317.60,221.00 322.20,219.60 328.10,217.80 340.60,215.90 343.80,215.40 359.60,213.70 377.00,211.50 395.00,209.00 401.00,208.30 423.80,206.80 440.40,205.90 450.10,203.70 464.10,201.00 478.10,199.60 495.00,199.40 510.80,196.80 530.00,193.60 554.60,189.80 559.00,187.20 572.10,183.70 584.30,180.70 590.50,176.60 599.20,173.70" stroke-width="2.2" stroke="#2a50f2" stroke-dasharray="7.7 3.2"/>
</g>
<rect x="37.0" y="5.9" width="597.1" height="362.3" fill="none" stroke="#000" stroke-width="1.6" stroke-linecap="square"/>
<path d="M37.00,368.20h-4.7 M37.00,307.82h-4.7 M37.00,247.43h-4.7 M37.00,187.05h-4.7 M37.00,126.67h-4.7 M37.00,66.28h-4.7 M37.00,5.90h-4.7 M634.10,352.20h4.7 M634.10,286.76h4.7 M634.10,221.32h4.7 M634.10,155.88h4.7 M634.10,90.44h4.7 M634.10,25.00h4.7 M62.00,368.20v4.7 M150.13,368.20v4.7 M241.24,368.20v4.7 M332.36,368.20v4.7 M424.97,368.20v4.7 M516.08,368.20v4.7 M607.20,368.20v4.7" stroke="#000" stroke-width="1.6"/>
<g fill="#000">
<text x="27.6" y="373.30" text-anchor="end">0</text>
<text x="27.6" y="312.92" text-anchor="end">1</text>
<text x="27.6" y="252.53" text-anchor="end">2</text>
<text x="27.6" y="192.15" text-anchor="end">3</text>
<text x="27.6" y="131.77" text-anchor="end">4</text>
<text x="27.6" y="71.38" text-anchor="end">5</text>
<text x="27.6" y="11.00" text-anchor="end">6</text>
<text x="643.0" y="357.60">0</text>
<text x="643.0" y="292.16">100</text>
<text x="643.0" y="226.72">200</text>
<text x="643.0" y="161.28">300</text>
<text x="643.0" y="95.84">400</text>
<text x="643.0" y="30.40">500</text>
<text x="62.00" y="387.7" text-anchor="middle">2021-01</text>
<text x="150.13" y="387.7" text-anchor="middle">2021-03</text>
<text x="241.24" y="387.7" text-anchor="middle">2021-05</text>
<text x="332.36" y="387.7" text-anchor="middle">2021-07</text>
<text x="424.97" y="387.7" text-anchor="middle">2021-09</text>
<text x="516.08" y="387.7" text-anchor="middle">2021-11</text>
<text x="607.20" y="387.7" text-anchor="middle">2022-01</text>
<text x="335.55" y="406.3" text-anchor="middle">Time (UTC)</text>
<text transform="translate(11.0,187.05) rotate(-90)" text-anchor="middle">Magnitude (MLv)</text>
<text transform="translate(683.6,187.05) rotate(-90)" text-anchor="middle">Cummulative number</text>
</g>
<rect x="43.6" y="12.8" width="170.5" height="42.599999999999994" rx="2.6" fill="#fff" fill-opacity="0.8" stroke="#d6d6d6" stroke-width="1.3"/>
<rect x="58.35" y="20.65" width="7.7" height="7.7" fill="none" stroke="#ff0000" stroke-width="1.9"/>
<circle cx="62.4" cy="43.9" r="5.0" fill="none" stroke="#2a50f2" stroke-width="1.9"/>
<text x="87.0" y="28.1">NEMRC detections</text>
<text x="87.0" y="48.0">NSSN detections</text>
<rect x="43.6" y="12.8" width="10.399999999999999" height="10.2" rx="2.6" fill="#fff" fill-opacity="0.8" stroke="#d6d6d6" stroke-width="1.3"/>
</svg>
</body></html>
